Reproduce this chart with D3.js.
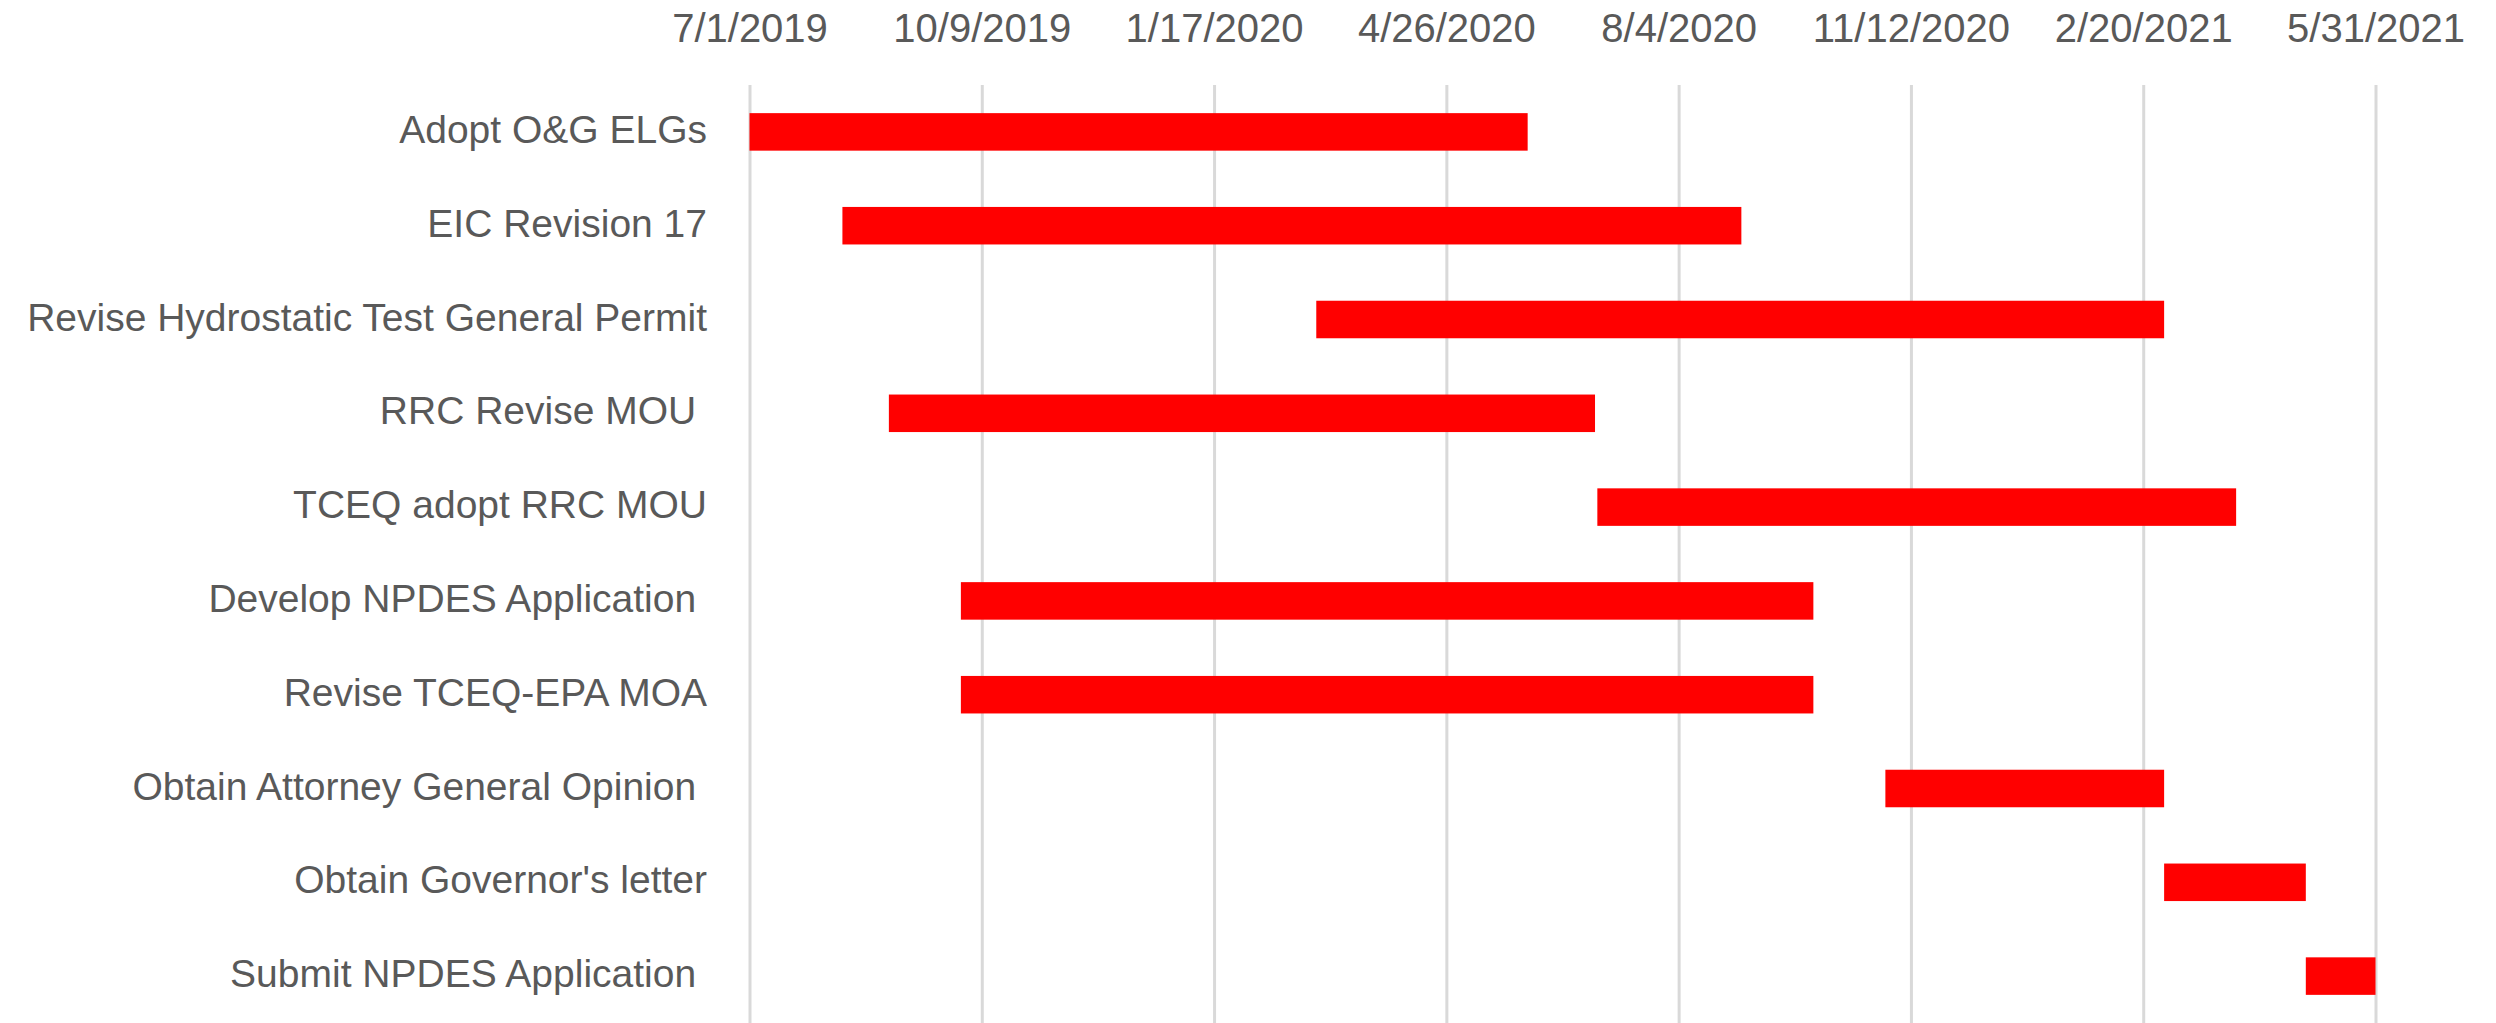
<!DOCTYPE html>
<html>
<head>
<meta charset="utf-8">
<script src="https://cdn.jsdelivr.net/npm/d3@7"></script>
<style>
    body { margin: 0; background: #fff; }
    svg { display: block; font-family: "Liberation Sans", Arial, sans-serif; }
    .label { fill: #595959; font-size: 39px; white-space: pre; }
    .x.axis text { fill: #595959; font-size: 40px; }
    .x.axis .domain { display: none; }
    .grid line { stroke: #d9d9d9; stroke-width: 3px; }
    .grid .domain { display: none; }
    .bar { fill: #ff0000; }
</style>
</head>
<body>
<div id="chart"></div>
<script>
// task list, top to bottom (trailing spaces are in the source labels)
var tasks = [
    "Adopt O&G ELGs",
    "EIC Revision 17",
    "Revise Hydrostatic Test General Permit",
    "RRC Revise MOU ",
    "TCEQ adopt RRC MOU",
    "Develop NPDES Application ",
    "Revise TCEQ-EPA MOA",
    "Obtain Attorney General Opinion ",
    "Obtain Governor's letter",
    "Submit NPDES Application "
];
var startDates = ["7/1/2019", "8/10/2019", "3/1/2020", "8/30/2019", "6/30/2020",
                  "9/30/2019", "9/30/2019", "11/1/2020", "3/1/2021", "5/1/2021"];
var endDates   = ["5/31/2020", "8/31/2020", "3/1/2021", "6/29/2020", "4/1/2021",
                  "10/1/2020", "10/1/2020", "3/1/2021", "5/1/2021", "5/31/2021"];
var tickLabels = ["7/1/2019", "10/9/2019", "1/17/2020", "4/26/2020",
                  "8/4/2020", "11/12/2020", "2/20/2021", "5/31/2021"];

var W = 2496, H = 1023;
var parse = d3.utcParse("%m/%d/%Y");
var fmt = d3.utcFormat("%-m/%-d/%Y");

var rows = tasks.map(function(t, i){
    return {name: t, start: parse(startDates[i]), end: parse(endDates[i])};
});
var ticks = tickLabels.map(parse);

var svg = d3.select('#chart').append('svg')
    .attr('width', W)
    .attr('height', H);

var x = d3.scaleUtc()
    .domain([ticks[0], ticks[ticks.length - 1]])
    .range([749.5, 2375.5]);

var y = d3.scaleBand()
    .domain(tasks)
    .range([85, H])
    .paddingInner(0.6)
    .paddingOuter(0.3);

// vertical gridlines
svg.append('g')
    .attr('class', 'grid')
    .attr('transform', 'translate(0,85)')
    .call(d3.axisBottom(x).tickValues(ticks).tickSize(H - 85).tickFormat(''));

// bars
svg.selectAll('.bar')
    .data(rows)
  .enter().append('rect')
    .attr('class', 'bar')
    .attr('x', function(d){ return x(d.start); })
    .attr('y', function(d){ return y(d.name); })
    .attr('width', function(d){ return x(d.end) - x(d.start); })
    .attr('height', y.bandwidth());

// date axis on top
var xAxis = svg.append('g')
    .attr('class', 'x axis')
    .attr('transform', 'translate(0,42)')
    .call(d3.axisTop(x).tickValues(ticks).tickSize(0).tickPadding(0).tickFormat(fmt));
xAxis.selectAll('text').attr('font-family', null).attr('font-size', null);

// category labels
svg.selectAll('.label')
    .data(tasks)
  .enter().append('text')
    .attr('class', 'label')
    .attr('x', 707)
    .attr('y', function(d){ return y(d) + y.bandwidth() / 2 + 11; })
    .attr('text-anchor', 'end')
    .text(function(d){ return d; });
</script>
</body>
</html>
